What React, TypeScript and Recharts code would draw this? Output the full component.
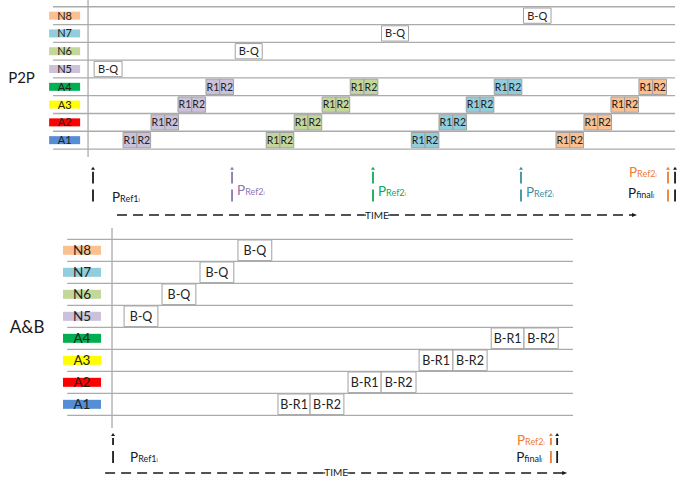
import { ComposedChart, XAxis, YAxis, Scatter, ReferenceArea, ReferenceLine, ReferenceDot } from 'recharts';

// rows, bottom to top
const ROWS = ['A1', 'A2', 'A3', 'A4', 'N5', 'N6', 'N7', 'N8'];
const ROW_COLORS = ['#558ed5', '#ff0000', '#ffff00', '#00b050', '#ccc1da', '#c4d79b', '#92cddc', '#fac090'];

// P2P: broadcast-query of new nodes N5..N8 (time units)
const P2P_BQ_START = [0.44, 10.68, 21.3, 31.6];
const P2P_BQ_END = [2.47, 12.64, 23.26, 33.6];
// P2P: R1/R2 rounds for A1..A4 after each join (start of R1)
const P2P_ROUND_N5 = [2.54, 4.57, 6.53, 8.56];
const P2P_ROUND_N6 = [12.93, 14.96, 16.99, 19.03];
const P2P_ROUND_N7 = [23.46, 25.47, 27.45, 29.48];
const P2P_ROUND_N8 = [33.96, 35.99, 37.95, 39.98];
const P2P_ROUNDS = [P2P_ROUND_N5, P2P_ROUND_N6, P2P_ROUND_N7, P2P_ROUND_N8];
const P2P_MARKER_TIMES = [0.36, 10.45, 20.68, 31.42, 42.09, 42.6];
const P2P_MARKER_NAMES = ['Ref1', 'Ref2', 'Ref2', 'Ref2', 'Ref2', 'final'];
const P2P_TIME_SPAN = [2.1, 39.84];

// A&B
const AB_BQ_START = [0.35, 1.45, 2.55, 3.65];
const AB_BQ_END = [1.33, 2.43, 3.53, 4.63];
const AB_R1_START = [4.81, 6.84, 8.9, 10.99];
const AB_R2_START = [5.74, 7.8, 9.88, 11.94];
const AB_R2_END = [6.72, 8.81, 10.87, 12.93];
const AB_MARKER_TIMES = [0.03, 12.72, 12.9];
const AB_MARKER_NAMES = ['Ref1', 'Ref2', 'final'];
const AB_TIME_SPAN = [-0.2, 13.19];

const BLACK = '#1a1a1a';
const LINE_GRAY = '#ababab';
const BOX_BORDER = '#a0a0a0';

const TOP = {
  top: 0,
  height: 225,
  xDomain: [-6.39, 42.96],
  yDomain: [-3.77, 8.88],
  lineX: [-2.54, 42.6],
  axisY: [0.05, 8.88],
  labelX: -1.7,
  labelW: 31,
  labelH: 8,
  labelFont: 11,
  boxHalf: 0.43,
  title: 'P2P',
  titleX: -5.8,
  titleFont: 15,
  arrowY: [-2.45, -0.5],
  timeY: -3.21,
  markerColors: [BLACK, '#8c77b0', '#11a859', '#3b8ea5', '#ed7d31', BLACK],
  textPos: [
    [19, 0.5],
    [5, -6.5],
    [5, -5.5],
    [5, -4.5],
    [-39, -24.5],
    [-47, -3.5],
  ],
};

const BOTTOM = {
  top: 225,
  height: 255,
  xDomain: [-3.246, 16.46],
  yDomain: [-2.44, 9.15],
  lineX: [-1.3, 13.36],
  axisY: [-0.08, 9.01],
  labelX: -0.87,
  labelW: 38,
  labelH: 9,
  labelFont: 13.5,
  boxHalf: 0.47,
  title: 'A&B',
  titleX: -2.96,
  titleFont: 17,
  arrowY: [-1.67, -0.3],
  timeY: -2.12,
  markerColors: [BLACK, '#ed7d31', BLACK],
  textPos: [
    [17, -1],
    [-34, -18],
    [-41, -1],
  ],
};

const rowData = ROWS.map((name, i) => ({ y: i + 1, name, color: ROW_COLORS[i] }));

function Arrow(props: any) {
  const { x1, y1, y2, color, name, dx, dy } = props;
  return (
    <g>
      <line x1={x1} y1={y1} x2={x1} y2={y2 + 5} stroke={color} strokeWidth={1.8} strokeDasharray="12 6 15" />
      <polygon points={`${x1 - 2},${y2 + 3} ${x1 + 2},${y2 + 3} ${x1},${y2}`} fill={color} />
      <text x={x1 + dx} y={y1 + dy} fill={color} fontSize={13.5}>
        P<tspan fontSize={9}>{name}</tspan>
        <tspan fontSize={5}>i</tspan>
      </text>
    </g>
  );
}

function TimeAxis(props: any) {
  const { x1, y1, x2 } = props;
  const mid = (x1 + x2) / 2;
  return (
    <g>
      <line x1={x1} y1={y1} x2={x2 - 4} y2={y1} stroke={BLACK} strokeWidth={1.6} strokeDasharray="10 6" />
      <polygon points={`${x2 - 5},${y1 - 2} ${x2},${y1} ${x2 - 5},${y1 + 2}`} fill={BLACK} />
      <rect x={mid - 13} y={y1 - 5} width={26} height={10} fill="#fff" />
      <line x1={mid - 13} y1={y1} x2={mid - 11} y2={y1} stroke={BLACK} strokeWidth={1.2} />
      <line x1={mid + 11} y1={y1} x2={mid + 13} y2={y1} stroke={BLACK} strokeWidth={1.2} />
      <text x={mid} y={y1 + 3.5} textAnchor="middle" fontSize={10} fill={BLACK}>
        TIME
      </text>
    </g>
  );
}

function Panel({ cfg, children, markers, names, span }: any) {
  return (
    <div style={{ position: 'absolute', left: 0, top: cfg.top }}>
      <ComposedChart width={680} height={cfg.height} margin={{ top: 0, right: 0, bottom: 0, left: 0 }}>
        <XAxis type="number" dataKey="x" domain={cfg.xDomain} allowDataOverflow hide />
        <YAxis type="number" dataKey="y" domain={cfg.yDomain} allowDataOverflow hide />
        {[0.5, 1.5, 2.5, 3.5, 4.5, 5.5, 6.5, 7.5, 8.5].map((y) => (
          <ReferenceLine
            key={`h${y}`}
            segment={[
              { x: cfg.lineX[0], y },
              { x: cfg.lineX[1], y },
            ]}
            stroke={LINE_GRAY}
            strokeWidth={1.3}
          />
        ))}
        <ReferenceLine
          segment={[
            { x: 0, y: cfg.axisY[0] },
            { x: 0, y: cfg.axisY[1] },
          ]}
          stroke={LINE_GRAY}
          strokeWidth={1.3}
        />
        {children}
        <Scatter
          data={rowData.map((r) => ({ ...r, x: cfg.labelX }))}
          isAnimationActive={false}
          shape={(p: any) => (
            <g>
              <rect x={p.cx - cfg.labelW / 2} y={p.cy - cfg.labelH / 2} width={cfg.labelW} height={cfg.labelH} fill={p.payload.color} />
              <text x={p.cx} y={p.cy + cfg.labelFont * 0.36} textAnchor="middle" fontSize={cfg.labelFont} fill="#222">
                {p.payload.name}
              </text>
            </g>
          )}
        />
        <ReferenceDot
          x={cfg.titleX}
          y={4.5}
          r={0}
          shape={(p: any) => (
            <text x={p.cx} y={p.cy + cfg.titleFont * 0.36} fontSize={cfg.titleFont} fill={BLACK}>
              {cfg.title}
            </text>
          )}
        />
        {markers.map((t: number, i: number) => (
          <ReferenceLine
            key={`m${i}`}
            segment={[
              { x: t, y: cfg.arrowY[0] },
              { x: t, y: cfg.arrowY[1] },
            ]}
            shape={(p: any) => (
              <Arrow {...p} color={cfg.markerColors[i]} name={names[i]} dx={cfg.textPos[i][0]} dy={cfg.textPos[i][1]} />
            )}
          />
        ))}
        <ReferenceLine
          segment={[
            { x: span[0], y: cfg.timeY },
            { x: span[1], y: cfg.timeY },
          ]}
          shape={(p: any) => <TimeAxis {...p} />}
        />
      </ComposedChart>
    </div>
  );
}

function box(key: string, x1: number, x2: number, row: number, half: number, fill: string, text: string, font: number) {
  return (
    <ReferenceArea
      key={key}
      x1={x1}
      x2={x2}
      y1={row - half}
      y2={row + half}
      fill={fill}
      fillOpacity={1}
      stroke={BOX_BORDER}
      strokeWidth={1}
      label={{ value: text, position: 'center', fontSize: font, fill: '#222' }}
    />
  );
}

export default function App() {
  return (
    <div style={{ position: 'absolute', left: 0, top: 0, width: 680, height: 480, background: '#fff', fontFamily: 'Lato, sans-serif' }}>
      <Panel cfg={TOP} markers={P2P_MARKER_TIMES} names={P2P_MARKER_NAMES} span={P2P_TIME_SPAN}>
        {P2P_BQ_START.map((s, i) => box(`bq${i}`, s, P2P_BQ_END[i], 5 + i, TOP.boxHalf, '#fff', 'B-Q', 11))}
        {P2P_ROUNDS.map((round, g) =>
          round.map((s, i) => [
            box(`r1-${g}-${i}`, s, s + 1, i + 1, TOP.boxHalf, ROW_COLORS[4 + g], 'R1', 10.5),
            box(`r2-${g}-${i}`, s + 1, s + 2, i + 1, TOP.boxHalf, ROW_COLORS[4 + g], 'R2', 10.5),
          ])
        )}
      </Panel>
      <Panel cfg={BOTTOM} markers={AB_MARKER_TIMES} names={AB_MARKER_NAMES} span={AB_TIME_SPAN}>
        {AB_BQ_START.map((s, i) => box(`abq${i}`, s, AB_BQ_END[i], 5 + i, BOTTOM.boxHalf, '#fff', 'B-Q', 12.5))}
        {AB_R1_START.map((s, i) => [
          box(`ab1-${i}`, s, AB_R2_START[i], i + 1, BOTTOM.boxHalf, '#fff', 'B-R1', 12.5),
          box(`ab2-${i}`, AB_R2_START[i], AB_R2_END[i], i + 1, BOTTOM.boxHalf, '#fff', 'B-R2', 12.5),
        ])}
      </Panel>
    </div>
  );
}
